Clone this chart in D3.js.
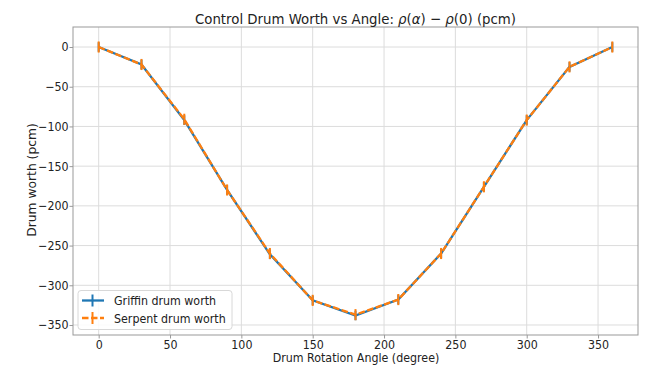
<!DOCTYPE html>
<html><head><meta charset="utf-8">
<script src="https://cdn.jsdelivr.net/npm/d3@7"></script>
<style>body{margin:0;background:#fff}svg{display:block}text{font-family:"DejaVu Sans",sans-serif;fill:#222}</style>
</head><body><svg id="c" width="649" height="366"></svg>
<script>
const angles = [0,30,60,90,120,150,180,210,240,270,300,330,360];
const griffin = [0,-22,-92,-180,-261,-319,-338,-318,-260,-176,-92,-25,0];
const serpent = [0,-22,-91,-180,-260,-319,-337,-318,-260,-176,-92,-25,0];
const griffinErr = [6,6,6,6,6,6,6,6,6,6,6,6,6];
const serpentErr = [7,7,7,7,7,7,7,7,7,7,7,7,7];
const xTicks = [0,50,100,150,200,250,300,350];
const yTicks = [0,-50,-100,-150,-200,-250,-300,-350];
const seriesNames = ["Griffin drum worth","Serpent drum worth"];
const colors = ["#1f77b4","#ff7f0e"];
const SQ = 0.9, FS = 12.3, TFS = 14.8;

const svg = d3.select("#c");
const L=73,R=638,T=27,B=335;
const x = d3.scaleLinear().domain([-18,378]).range([L,R]);
const y = d3.scaleLinear().domain([-362.6,25.2]).range([B,T]);

function squeeze(sel){
  sel.each(function(){
    const w=this.getComputedTextLength();
    this.setAttribute("textLength", (w*SQ).toFixed(2));
    this.setAttribute("lengthAdjust","spacingAndGlyphs");
  });
}

// grid
svg.append("g").selectAll("line").data(xTicks).join("line")
  .attr("x1",d=>x(d)).attr("x2",d=>x(d)).attr("y1",T).attr("y2",B)
  .attr("stroke","#dcdcdc").attr("stroke-width",1);
svg.append("g").selectAll("line").data(yTicks).join("line")
  .attr("y1",d=>y(d)).attr("y2",d=>y(d)).attr("x1",L).attr("x2",R)
  .attr("stroke","#dcdcdc").attr("stroke-width",1);

// axes
const xa = svg.append("g").attr("transform",`translate(0,${B})`)
  .call(d3.axisBottom(x).tickValues(xTicks).tickSize(3.5).tickPadding(2).tickFormat(d3.format("d")));
const ya = svg.append("g").attr("transform",`translate(${L},0)`)
  .call(d3.axisLeft(y).tickValues(yTicks).tickSize(3.5).tickPadding(1).tickFormat(d=>d<0?"\u2212"+Math.abs(d):d));
[xa,ya].forEach(a=>{
  a.select(".domain").remove();
  a.selectAll(".tick line").attr("stroke","#999");
  a.selectAll("text").attr("font-size",FS).attr("fill","#222").attr("font-family","DejaVu Sans");
  squeeze(a.selectAll("text"));
});

svg.append("rect").attr("x",L).attr("y",T).attr("width",R-L).attr("height",B-T)
  .attr("fill","none").attr("stroke","#999").attr("stroke-width",1);

const line = d3.line().x(d=>x(d[0])).y(d=>y(d[1]));
const sets = [[griffin,griffinErr],[serpent,serpentErr]];
sets.forEach(([vals,errs],i)=>{
  const g = svg.append("g");
  g.append("path").datum(angles.map((a,j)=>[a,vals[j]]))
    .attr("d",line).attr("fill","none").attr("stroke",colors[i]).attr("stroke-width",2.3)
    .attr("stroke-dasharray",i===1?"6.5,2.5":null);
  g.selectAll("line").data(angles).join("line")
    .attr("x1",d=>x(d)).attr("x2",d=>x(d))
    .attr("y1",(d,j)=>y(vals[j]-errs[j])).attr("y2",(d,j)=>y(vals[j]+errs[j]))
    .attr("stroke",colors[i]).attr("stroke-width",2);
});

// title
const title = svg.append("text").attr("transform",`translate(355.5,24) scale(${SQ},1)`).attr("text-anchor","middle").attr("font-size",TFS);
title.append("tspan").text("Control Drum Worth vs Angle: ");
title.append("tspan").attr("font-style","italic").text("\u03C1");
title.append("tspan").text("(");
title.append("tspan").attr("font-style","italic").text("\u03B1");
title.append("tspan").text(") \u2212 ");
title.append("tspan").attr("font-style","italic").text("\u03C1");
title.append("tspan").text("(0) (pcm)");

const xl = svg.append("text").attr("x",356).attr("y",362).attr("text-anchor","middle").attr("font-size",FS).text("Drum Rotation Angle (degree)");
squeeze(xl);
svg.append("text").attr("transform","translate(35.5,180) rotate(-90)").attr("text-anchor","middle").attr("font-size",FS).text("Drum worth (pcm)");

// legend
const lg = svg.append("g");
lg.append("rect").attr("x",78).attr("y",290.5).attr("width",154).attr("height",39).attr("rx",3)
  .attr("fill","#fff").attr("fill-opacity",0.85).attr("stroke","#d8d8d8");
seriesNames.forEach((n,i)=>{
  const cy = 300.5+i*17.5;
  lg.append("line").attr("x1",82).attr("x2",104).attr("y1",cy).attr("y2",cy)
    .attr("stroke",colors[i]).attr("stroke-width",2.3).attr("stroke-dasharray",i===1?"6.5,2.5":null);
  lg.append("line").attr("x1",92.5).attr("x2",92.5).attr("y1",cy-6).attr("y2",cy+6)
    .attr("stroke",colors[i]).attr("stroke-width",2);
  const t = lg.append("text").attr("x",114).attr("y",cy+4.5).attr("font-size",FS).text(n);
  squeeze(t);
});
</script></body></html>
